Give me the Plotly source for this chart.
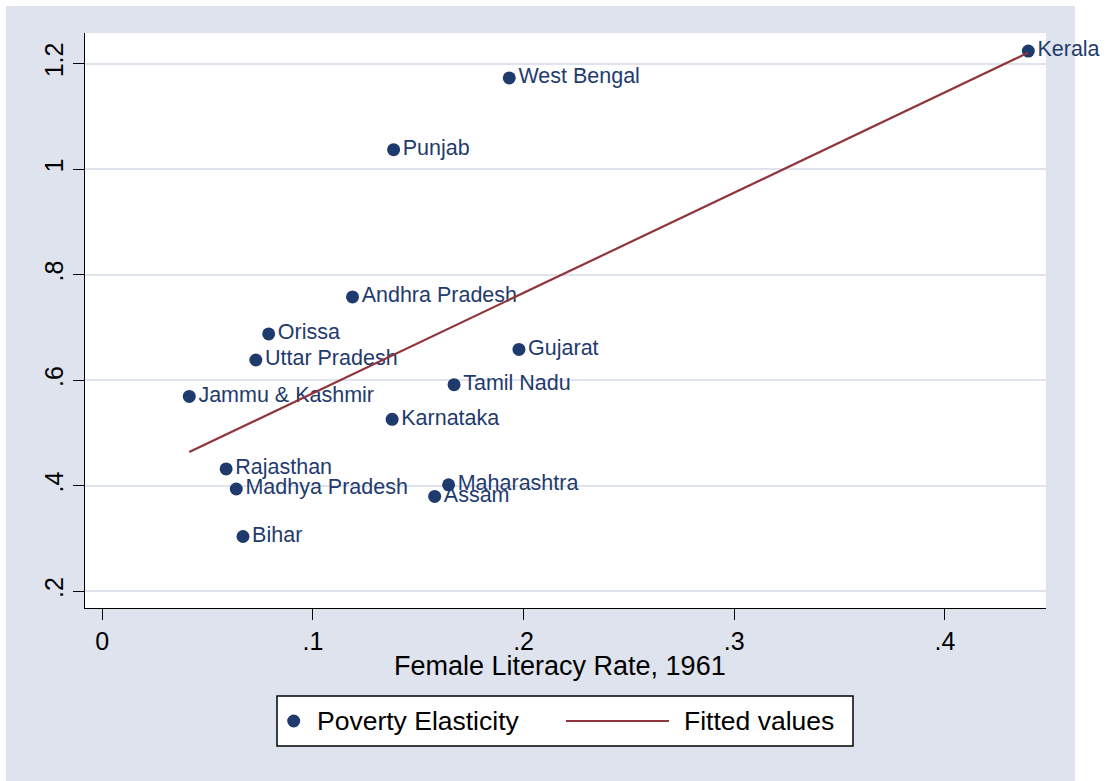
import plotly.graph_objects as go

# values
states = ["Kerala", "West Bengal", "Punjab", "Andhra Pradesh", "Orissa",
          "Uttar Pradesh", "Gujarat", "Tamil Nadu", "Jammu & Kashmir",
          "Karnataka", "Rajasthan", "Madhya Pradesh", "Bihar",
          "Maharashtra", "Assam"]
literacy_1961 = [0.4396, 0.1932, 0.1383, 0.1188, 0.0790,
                 0.0729, 0.1978, 0.1670, 0.0413,
                 0.1376, 0.0588, 0.0636, 0.0668,
                 0.1644, 0.1578]
poverty_elasticity = [1.224, 1.173, 1.037, 0.758, 0.688,
                      0.6385, 0.6586, 0.5917, 0.5695,
                      0.526, 0.432, 0.394, 0.304,
                      0.402, 0.380]
fit_x = [0.0413, 0.4396]
fit_y = [0.464, 1.221]

x_ticks = [0, 0.1, 0.2, 0.3, 0.4]
x_ticklabels = ["0", ".1", ".2", ".3", ".4"]
y_ticks = [0.2, 0.4, 0.6, 0.8, 1.0, 1.2]
y_ticklabels = [".2", ".4", ".6", ".8", "1", "1.2"]

NAVY = "#1f3b6d"
MAROON = "#90353b"
BG = "#dfe3ee"
FONT = "Arial, Liberation Sans, sans-serif"

W, H = 1109, 781
L, R, T, B = 85, 63, 33, 173
pw, ph = W - L - R, H - T - B


def px_x(p):
    return (p - L) / pw


def px_y(p):
    return (H - B - p) / ph


fig = go.Figure()

fig.add_trace(go.Scatter(
    x=literacy_1961, y=poverty_elasticity, text=states,
    mode="markers+text", textposition="middle right",
    marker=dict(color=NAVY, size=13),
    textfont=dict(color=NAVY, size=21.5, family=FONT),
    cliponaxis=False, showlegend=False, name="Poverty Elasticity"))

fig.add_trace(go.Scatter(
    x=fit_x, y=fit_y, mode="lines",
    line=dict(color=MAROON, width=2.2),
    showlegend=False, name="Fitted values"))

shapes = [
    # graph region background
    dict(type="rect", xref="paper", yref="paper", layer="below",
         x0=px_x(6), x1=px_x(1075), y0=px_y(H + 5), y1=px_y(6),
         fillcolor=BG, line_width=0),
    # plot region
    dict(type="rect", xref="paper", yref="paper", layer="below",
         x0=0, x1=1, y0=0, y1=1, fillcolor="white", line_width=0),
    # legend box
    dict(type="rect", xref="paper", yref="paper",
         x0=px_x(277), x1=px_x(853), y0=px_y(746), y1=px_y(696),
         fillcolor="white", line=dict(color="black", width=1.5)),
    dict(type="circle", xref="paper", yref="paper",
         x0=px_x(287.2), x1=px_x(300.2), y0=px_y(727.5), y1=px_y(714.5),
         fillcolor=NAVY, line_width=0),
    dict(type="line", xref="paper", yref="paper",
         x0=px_x(566), x1=px_x(669), y0=px_y(721), y1=px_y(721),
         line=dict(color=MAROON, width=2.2)),
]

annotations = [
    dict(text="Poverty Elasticity", xref="paper", yref="paper",
         x=px_x(315), y=px_y(721), xanchor="left", yanchor="middle",
         showarrow=False, font=dict(size=26.5, color="black", family=FONT)),
    dict(text="Fitted values", xref="paper", yref="paper",
         x=px_x(682), y=px_y(721), xanchor="left", yanchor="middle",
         showarrow=False, font=dict(size=26.5, color="black", family=FONT)),
    # x axis title, placed like the reference
    dict(text="Female Literacy Rate, 1961", xref="paper", yref="paper",
         x=px_x(560), y=px_y(666), xanchor="center", yanchor="middle",
         showarrow=False, font=dict(size=27, color="black", family=FONT)),
]

fig.update_layout(
    width=W, height=H,
    margin=dict(l=L, r=R, t=T, b=B),
    paper_bgcolor="white", plot_bgcolor="white",
    font=dict(family=FONT, color="black"),
    shapes=shapes, annotations=annotations,
    showlegend=False,
    xaxis=dict(
        range=[-0.0082, 0.448], tickvals=x_ticks, ticktext=x_ticklabels,
        showgrid=False, zeroline=False,
        showline=True, linecolor="black", linewidth=1.4,
        ticks="outside", ticklen=11, tickwidth=1.4, tickcolor="black",
        tickfont=dict(size=25, color="black"),
    ),
    yaxis=dict(
        range=[0.1685, 1.2582], tickvals=y_ticks, ticktext=y_ticklabels,
        tickangle=-90,
        showgrid=True, gridcolor=BG, gridwidth=2, zeroline=False,
        showline=True, linecolor="black", linewidth=1.4,
        ticks="outside", ticklen=11, tickwidth=1.4, tickcolor="black",
        tickfont=dict(size=25, color="black"),
    ),
)

fig.write_html("out.html", config={"displayModeBar": False},
               post_script="document.body.style.margin='0';")
